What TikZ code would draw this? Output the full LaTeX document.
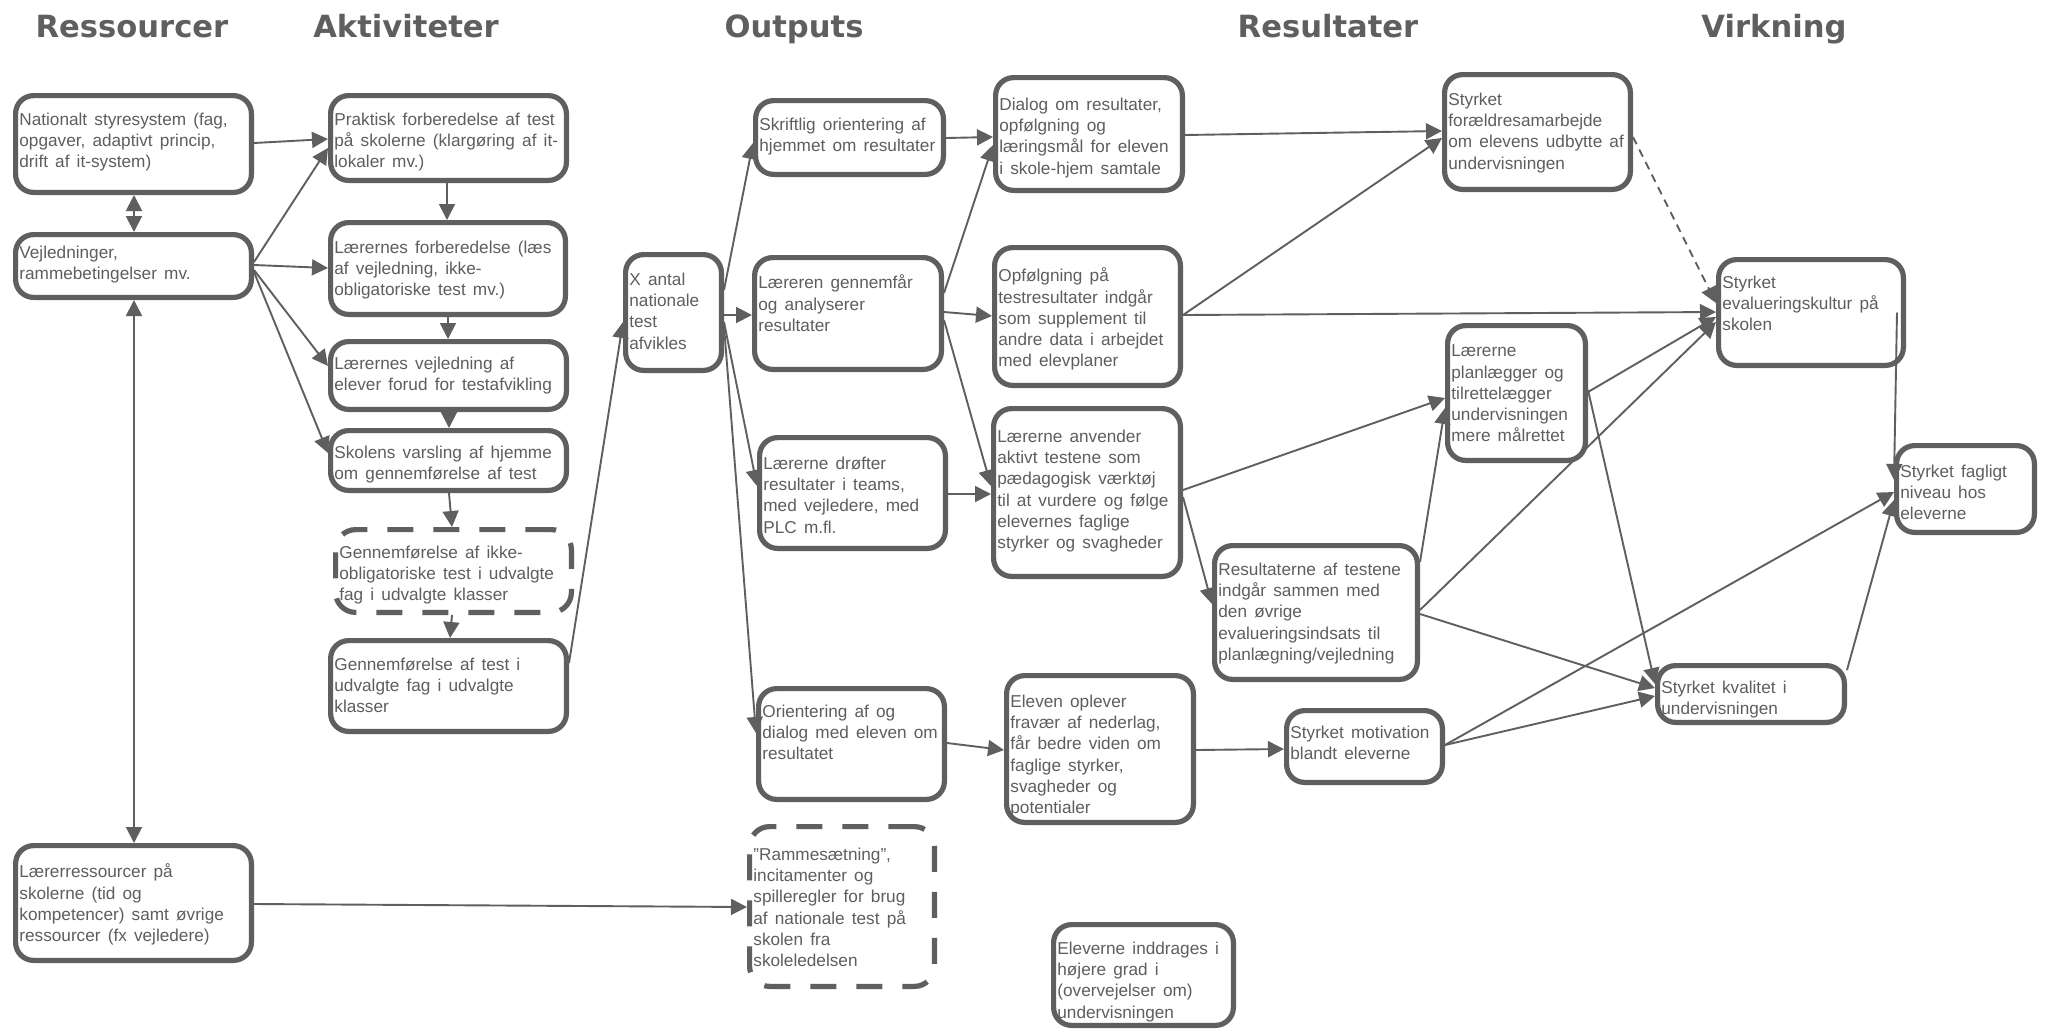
\documentclass[tikz,border=0pt]{standalone}
\usepackage{fontspec}
\setmainfont{Liberation Sans}[WordSpace=1.5]
\newfontfamily\headfont{DejaVu Sans}
\usetikzlibrary{arrows.meta}
\definecolor{dg}{HTML}{5F5F5F}
\definecolor{tg}{HTML}{5E5E5E}
\tikzset{
  box/.style={draw=dg, line width=2.6pt, rounded corners=9pt, inner sep=0pt, fill=white},
  dbox/.style={dash pattern=on 13pt off 10pt, rounded corners=10pt},
  txt/.style={text=tg, font=\fontsize{8.6}{10.65}\selectfont, align=left, inner sep=0pt},
  head/.style={text=dg, font=\headfont\bfseries\fontsize{15.3}{18}\selectfont, anchor=base, inner sep=0pt},
  arr/.style={draw=dg, line width=0.95pt, -{Triangle[length=8pt,width=8pt]}},
  darr/.style={draw=dg, line width=0.95pt, {Triangle[length=8pt,width=8pt]}-{Triangle[length=8pt,width=8pt]}},
  dsh/.style={arr, dash pattern=on 4pt off 3pt},
}
\newcommand\mybox[8][]{%
  \pgfmathsetmacro\mbw{(#5-#3)*0.5-2.6}%
  \pgfmathsetmacro\mbh{(#6-#4)*0.5-2.6}%
  \node[box,#1,minimum width=\mbw pt,minimum height=\mbh pt] (#2) at ({(#3+#5)/2},{(#4+#6)/2}) {};%
  \node[txt,anchor=north west] (#2-t) at ({#3+6},{#4+#7-12.5}) {#8};%
}
\begin{document}
\begin{tikzpicture}[x=0.5pt,y=-0.5pt]
\fill[white] (0,0) rectangle (2047,1030);
\useasboundingbox (0,0) rectangle (2047,1030);

% headings
\node[head] (h1) at (132,37) {Ressourcer};
\node[head] (h2) at (406,37) {Aktiviteter};
\node[head] (h3) at (794,37) {Outputs};
\node[head] (h4) at (1328,37) {Resultater};
\node[head] (h5) at (1774,37) {Virkning};

% Ressourcer
\mybox{nat}{13}{93}{254}{195}{32}{Nationalt styresystem (fag,\\opgaver, adaptivt princip,\\drift af it-system)}
\mybox{vej}{13}{232}{254}{300}{26}{Vejledninger,\\rammebetingelser mv.}
\mybox{lres}{13}{843}{254}{963}{33}{Lærerressourcer på\\skolerne (tid og\\kompetencer) samt øvrige\\ressourcer (fx vejledere)}

% Aktiviteter
\mybox{prak}{328}{93}{569}{183}{32}{Praktisk forberedelse af test\\på skolerne (klargøring af it-\\lokaler mv.)}
\mybox{lfor}{328}{220}{568}{317}{33}{Lærernes forberedelse (læs\\af vejledning, ikke-\\obligatoriske test mv.)}
\mybox{lvej}{328}{339}{569}{412}{30}{Lærernes vejledning af\\elever forud for testafvikling}
\mybox{skol}{328}{428}{569}{493}{30}{Skolens varsling af hjemme\\om gennemførelse af test}
\mybox[dbox]{gik}{333}{527}{574}{615}{31}{Gennemførelse af ikke-\\obligatoriske test i udvalgte\\fag i udvalgte klasser}
\mybox{gen}{328}{638}{569}{734}{32}{Gennemførelse af test i\\udvalgte fag i udvalgte\\klasser}

% Outputs
\mybox{xant}{623}{252}{724}{373}{33}{X antal\\nationale\\test\\afvikles}
\mybox{skr}{753}{98}{946}{177}{32}{Skriftlig orientering af\\hjemmet om resultater}
\mybox{lgen}{752}{255}{944}{372}{32}{Læreren gennemfår\\og analyserer\\resultater}
\mybox{ldro}{757}{435}{948}{551}{34}{Lærerne drøfter\\resultater i teams,\\med vejledere, med\\PLC m.fl.}
\mybox{ori}{756}{686}{947}{802}{31}{Orientering af og\\dialog med eleven om\\resultatet}
\mybox[dbox]{ram}{747}{824}{937}{989}{36}{”Rammesætning”,\\incitamenter og\\spilleregler for brug\\af nationale test på\\skolen fra\\skoleledelsen}

% Resultater
\mybox{dia}{993}{75}{1185}{193}{35}{Dialog om resultater,\\opfølgning og\\læringsmål for eleven\\i skole-hjem samtale}
\mybox{opf}{992}{245}{1183}{388}{35}{Opfølgning på\\testresultater indgår\\som supplement til\\andre data i arbejdet\\med elevplaner}
\mybox{lanv}{991}{406}{1183}{579}{36}{Lærerne anvender\\aktivt testene som\\pædagogisk værktøj\\til at vurdere og følge\\elevernes faglige\\styrker og svagheder}
\mybox{elev}{1004}{673}{1196}{825}{34}{Eleven oplever\\fravær af nederlag,\\får bedre viden om\\faglige styrker,\\svagheder og\\potentialer}
\mybox{einn}{1051}{922}{1236}{1028}{32}{Eleverne inddrages i\\højere grad i\\(overvejelser om)\\undervisningen}
\mybox{rest}{1212}{543}{1420}{682}{32}{Resultaterne af testene\\indgår sammen med\\den øvrige\\evalueringsindsats til\\planlægning/vejledning}
\mybox{mot}{1284}{708}{1445}{785}{30}{Styrket motivation\\blandt eleverne}
\mybox{for}{1442}{72}{1633}{192}{33}{Styrket\\forældresamarbejde\\om elevens udbytte af\\undervisningen}
\mybox{lpl}{1445}{323}{1588}{463}{34}{Lærerne\\planlægger og\\tilrettelægger\\undervisningen\\mere målrettet}

% Virkning
\mybox{eva}{1716}{257}{1906}{368}{31}{Styrket\\evalueringskultur på\\skolen}
\mybox{kva}{1655}{663}{1847}{725}{30}{Styrket kvalitet i\\undervisningen}
\mybox{fag}{1894}{443}{2037}{535}{34}{Styrket fagligt\\niveau hos\\eleverne}

% connectors
\draw[darr] (nat.south -| 134,0) -- (vej.north -| 134,0);
\draw[darr] (vej.south -| 134,0) -- (lres.north -| 134,0);
\draw[arr] (nat.east |- 0,143) -- (prak.west |- 0,139);
\draw[arr] (vej.east |- 0,262) -- (prak.west |- 0,148);
\draw[arr] (vej.east |- 0,265) -- (lfor.west |- 0,268);
\draw[arr] (vej.east |- 0,270) -- (lvej.west |- 0,366);
\draw[arr] (vej.east |- 0,272) -- (skol.west |- 0,453);
\draw[arr] (prak.south -| 447,0) -- (lfor.north -| 447,0);
\draw[arr] (lfor.south -| 448,0) -- (lvej.north -| 448,0);
\draw[arr] (lvej.south -| 449,0) -- (skol.north -| 449,0);
\draw[arr] (skol.south -| 449,0) -- (gik.north -| 452,0);
\draw[arr] (gik.south -| 452,0) -- (gen.north -| 450,0);
\draw[arr] (gen.east |- 0,663) -- (xant.west |- 0,322);
\draw[arr] (xant.east |- 0,290) -- (skr.west |- 0,143);
\draw[arr] (xant.east |- 0,315) -- (lgen.west |- 0,315);
\draw[arr] (xant.east |- 0,322) -- (ldro.west |- 0,486);
\draw[arr] (xant.east |- 0,326) -- (ori.west |- 0,733);
\draw[arr] (skr.east |- 0,138) -- (dia.west |- 0,137);
\draw[arr] (lgen.east |- 0,293) -- (dia.west |- 0,145);
\draw[arr] (lgen.east |- 0,312) -- (opf.west |- 0,316);
\draw[arr] (lgen.east |- 0,320) -- (lanv.west |- 0,486);
\draw[arr] (ldro.east |- 0,494) -- (lanv.west |- 0,494);
\draw[arr] (ori.east |- 0,743) -- (elev.west |- 0,750);
\draw[arr] (lres.east |- 0,904) -- (ram.west |- 0,907);
\draw[arr] (dia.east |- 0,135) -- (for.west |- 0,131);
\draw[arr] (opf.east |- 0,315) -- (for.west |- 0,138);
\draw[arr] (opf.east |- 0,315) -- (eva.west |- 0,312);
\draw[arr] (lanv.east |- 0,490) -- (lpl.west |- 0,398);
\draw[arr] (lanv.east |- 0,497) -- (rest.west |- 0,604);
\draw[arr] (elev.east |- 0,750) -- (mot.west |- 0,749);
\draw[dsh] (for.east |- 0,137) -- (eva.west |- 0,303);
\draw[arr] (lpl.east |- 0,392) -- (eva.west |- 0,317);
\draw[arr] (rest.east |- 0,610) -- (eva.west |- 0,322);
\draw[arr] (lpl.east |- 0,390) -- (kva.west |- 0,684);
\draw[arr] (rest.east |- 0,562) -- (lpl.west |- 0,408);
\draw[arr] (rest.east |- 0,614) -- (kva.west |- 0,688);
\draw[arr] (mot.east |- 0,745) -- (kva.west |- 0,696);
\draw[arr] (mot.east |- 0,745) -- (fag.west |- 0,492);
\draw[arr] ([xshift=-4.5pt]eva.east) -- (fag.west |- 0,480);
\draw[arr] (kva.east |- 0,670) -- (fag.west |- 0,500);
\end{tikzpicture}
\end{document}
